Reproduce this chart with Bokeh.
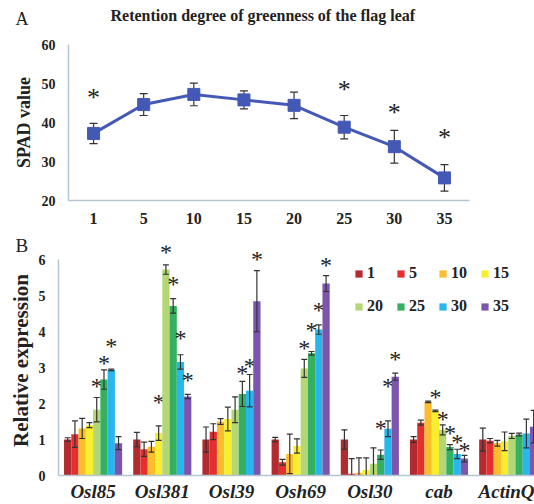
from bokeh.plotting import figure
from bokeh.layouts import column
from bokeh.models import (Title, FixedTicker, Legend, LegendItem, Range1d, ColumnDataSource,
                          LinearAxis)
from bokeh.core.properties import value
from bokeh.embed import file_html
from bokeh.resources import INLINE
import numpy as np

# ---------------- data ----------------
days = ["1", "5", "10", "15", "20", "25", "30", "35"]
spad = [37.2, 44.6, 47.2, 45.8, 44.4, 38.8, 33.8, 25.8]
spad_err = [2.6, 2.8, 2.9, 2.3, 3.4, 3.0, 4.2, 3.4]
spad_star_y = [46.5, None, None, None, None, 48.4, 42.6, 36.1]

genes = ["Osl85", "Osl381", "Osl39", "Osh69", "Osl30", "cab", "ActinQ"]
# expression per day series (one list per day, ordered by genes)
expr_1 = [1.00, 1.00, 1.00, 1.00, 1.00, 1.00, 1.00]
expr_5 = [1.15, 0.73, 1.22, 0.37, 0.05, 1.47, 0.97]
expr_10 = [1.31, 0.80, 1.50, 0.60, 0.08, 2.05, 0.90]
expr_15 = [1.40, 1.18, 1.57, 0.82, 0.15, 1.80, 0.95]
expr_20 = [1.83, 5.73, 1.83, 2.98, 0.33, 1.27, 1.10]
expr_25 = [2.67, 4.72, 2.27, 3.40, 0.58, 0.79, 1.14]
expr_30 = [2.94, 3.16, 2.36, 4.06, 1.30, 0.60, 1.17]
expr_35 = [0.90, 2.20, 4.85, 5.34, 2.75, 0.47, 1.36]

err_1 = [0.05, 0.20, 0.35, 0.06, 0.27, 0.08, 0.32]
err_5 = [0.37, 0.20, 0.22, 0.08, 0.42, 0.07, 0.06]
err_10 = [0.28, 0.15, 0.08, 0.55, 0.41, 0.02, 0.08]
err_15 = [0.07, 0.20, 0.33, 0.20, 0.34, 0.02, 0.26]
err_20 = [0.34, 0.13, 0.36, 0.25, 0.44, 0.14, 0.07]
err_25 = [0.27, 0.20, 0.35, 0.05, 0.13, 0.07, 0.04]
err_30 = [0.02, 0.20, 0.45, 0.13, 0.22, 0.13, 0.40]
err_35 = [0.18, 0.06, 0.85, 0.22, 0.10, 0.09, 0.45]

# heights of significance asterisks (None = not significant)
star_1 = [None] * 7
star_5 = [None] * 7
star_10 = [None] * 7
star_15 = [None, 2.04, None, None, None, 2.18, None]
star_20 = [2.50, 6.22, None, 3.55, None, 1.58, None]
star_25 = [3.14, 5.34, 2.85, 4.06, 1.31, 1.17, None]
star_30 = [3.60, 3.83, 3.05, 4.60, 2.48, 0.94, None]
star_35 = [None, 2.66, 6.03, 5.87, 3.25, 0.71, None]

expr = [expr_1, expr_5, expr_10, expr_15, expr_20, expr_25, expr_30, expr_35]
errs = [err_1, err_5, err_10, err_15, err_20, err_25, err_30, err_35]
stars = [star_1, star_5, star_10, star_15, star_20, star_25, star_30, star_35]

colors = ["#b32a2f", "#e3302f", "#fbbd2c", "#f7ee30", "#b4d775", "#35b060", "#28b6ee", "#7c56ae"]

SERIF = "Liberation Serif"
AXC = "#b6c5d4"
ERRC = "#333333"
LINEC = "#4458b5"
TXT = "#222222"

# ---------------- panel A ----------------
p1 = figure(width=534, height=232, x_range=Range1d(0.5, 8.5), y_range=Range1d(20, 60),
            output_backend="svg", toolbar_location=None, title=None,
            min_border_left=68, min_border_right=65, min_border_top=44, min_border_bottom=32)
p1.frame_align = False
p1.outline_line_color = None
p1.xgrid.visible = False
p1.ygrid.visible = False
xa1 = p1.below[0]
ya1 = p1.left[0]

# invisible spacer above the frame, then the two title texts
spacer = LinearAxis(ticker=FixedTicker(ticks=[4.5]), major_label_overrides={4.5: " "},
                    major_tick_out=22, major_tick_in=0,
                    major_label_standoff=0, axis_label_standoff=0,
                    axis_line_color=None, major_tick_line_color=None,
                    minor_tick_line_color=None, minor_tick_out=0,
                    major_label_text_font_size="1px")
p1.add_layout(spacer, "above")
p1.add_layout(Title(text="A", align="left", offset=-53, standoff=-20,
                    text_font=SERIF, text_font_style="normal", text_font_size="18px",
                    text_color=TXT), "above")
p1.add_layout(Title(text="Retention degree of greenness of the flag leaf", align="left",
                    offset=42, standoff=-15,
                    text_font=SERIF, text_font_style="bold", text_font_size="16px",
                    text_color=TXT), "above")

xs = list(range(1, len(days) + 1))
src1 = ColumnDataSource(dict(x=xs, y=spad,
                             lo=[v - e for v, e in zip(spad, spad_err)],
                             hi=[v + e for v, e in zip(spad, spad_err)]))
p1.segment(x0="x", y0="lo", x1="x", y1="hi", source=src1, line_color=ERRC, line_width=1.2)
p1.scatter(x="x", y="lo", source=src1, marker="dash", size=8, line_color=ERRC, line_width=1.2)
p1.scatter(x="x", y="hi", source=src1, marker="dash", size=8, line_color=ERRC, line_width=1.2)
p1.line(x="x", y="y", source=src1, line_color=LINEC, line_width=3)
p1.scatter(x="x", y="y", source=src1, marker="square", size=12, fill_color=LINEC, line_color=LINEC)

sx = [x for x, s in zip(xs, spad_star_y) if s is not None]
sy = [s for s in spad_star_y if s is not None]
p1.text(x=sx, y=sy, text=["*"] * len(sx), text_font=value(SERIF), text_font_size="26px",
        text_align="center", text_baseline="middle", text_color=TXT)

xa1.ticker = FixedTicker(ticks=xs)
xa1.major_label_overrides = {x: d for x, d in zip(xs, days)}
ya1.ticker = FixedTicker(ticks=[20, 30, 40, 50, 60])
for ax in (xa1, ya1):
    ax.axis_line_color = AXC
    ax.axis_line_width = 1.5
    ax.major_tick_out = 0
    ax.major_tick_in = 0
    ax.major_tick_line_color = None
    ax.minor_tick_line_color = None
    ax.major_label_text_font = SERIF
    ax.major_label_text_font_style = "bold"
    ax.major_label_text_color = TXT
xa1.major_label_text_font_size = "16px"
xa1.major_label_standoff = 12
xa1.axis_label_standoff = 0
ya1.major_label_text_font_size = "14px"
ya1.major_label_standoff = 13
ya1.axis_label = "SPAD value"
ya1.axis_label_text_font = SERIF
ya1.axis_label_text_font_style = "bold"
ya1.axis_label_text_font_size = "18px"
ya1.axis_label_text_color = TXT
ya1.axis_label_standoff = 5

# ---------------- panel B ----------------
p2 = figure(width=534, height=272, x_range=Range1d(-0.5, 6.38), y_range=Range1d(0, 6.4),
            output_backend="svg", toolbar_location=None, title=None,
            min_border_left=58, min_border_right=0, min_border_top=13, min_border_bottom=26)
p2.frame_align = False
p2.outline_line_color = None
p2.xgrid.visible = False
p2.ygrid.visible = False

p2.add_layout(Title(text="B", align="left", offset=-43, standoff=-20,
                    text_font=SERIF, text_font_style="normal", text_font_size="19px",
                    text_color=TXT), "above")

gx = np.arange(len(genes))
bw = 0.105
renderers = []
for j, (vals, es, st, col) in enumerate(zip(expr, errs, stars, colors)):
    off = (j - 3.5) * bw
    x = gx + off
    src = ColumnDataSource(dict(x=x, top=vals,
                                lo=[v - e for v, e in zip(vals, es)],
                                hi=[v + e for v, e in zip(vals, es)]))
    r = p2.vbar(x="x", top="top", width=bw, source=src, fill_color=col, line_color=None)
    renderers.append(r)
    p2.segment(x0="x", y0="lo", x1="x", y1="hi", source=src, line_color=ERRC, line_width=1.2)
    p2.scatter(x="x", y="lo", source=src, marker="dash", size=6, line_color=ERRC, line_width=1.2)
    p2.scatter(x="x", y="hi", source=src, marker="dash", size=6, line_color=ERRC, line_width=1.2)
    sxs = [xx for xx, s in zip(x, st) if s is not None]
    sys_ = [s for s in st if s is not None]
    if sxs:
        p2.text(x=sxs, y=sys_, text=["*"] * len(sxs), text_font=value(SERIF), text_font_size="24px",
                text_align="center", text_baseline="middle", text_color=TXT)

# legend: 2 rows x 4 columns, read row-wise (1 5 10 15 / 20 25 30 35)
order = [0, 4, 1, 5, 2, 6, 3, 7]
items = [LegendItem(label=days[k], renderers=[renderers[k]]) for k in order]
legend = Legend(items=items, ncols=4, location=(296, 159),
                label_text_font=SERIF, label_text_font_style="bold", label_text_font_size="16px",
                label_text_color=TXT,
                glyph_width=9, glyph_height=9, label_standoff=4, spacing=13,
                label_width=15, label_height=20, padding=0, margin=0,
                border_line_color=None, background_fill_alpha=0)
p2.add_layout(legend)

xa2 = p2.below[0]
ya2 = p2.left[0]
xa2.ticker = FixedTicker(ticks=list(gx))
xa2.major_label_overrides = {int(i): g for i, g in zip(gx, genes)}
ya2.ticker = FixedTicker(ticks=[0, 1, 2, 3, 4, 5, 6])
ya2.bounds = (0, 6)
for ax in (xa2, ya2):
    ax.axis_line_color = AXC
    ax.axis_line_width = 1.5
    ax.major_tick_out = 0
    ax.major_tick_in = 0
    ax.major_tick_line_color = None
    ax.minor_tick_line_color = None
    ax.major_label_text_font = SERIF
    ax.major_label_text_color = TXT
xa2.major_label_text_font_style = "bold italic"
xa2.major_label_text_font_size = "19px"
xa2.major_label_standoff = 5
xa2.axis_label_standoff = 0
ya2.major_label_text_font_style = "bold"
ya2.major_label_text_font_size = "14px"
ya2.major_label_standoff = 13
ya2.axis_label = "Relative expression"
ya2.axis_label_text_font = SERIF
ya2.axis_label_text_font_style = "bold"
ya2.axis_label_text_font_size = "21px"
ya2.axis_label_text_color = TXT
ya2.axis_label_standoff = 3

layout = column(p1, p2, spacing=0)
open("out.html", "w").write(file_html(layout, INLINE))
